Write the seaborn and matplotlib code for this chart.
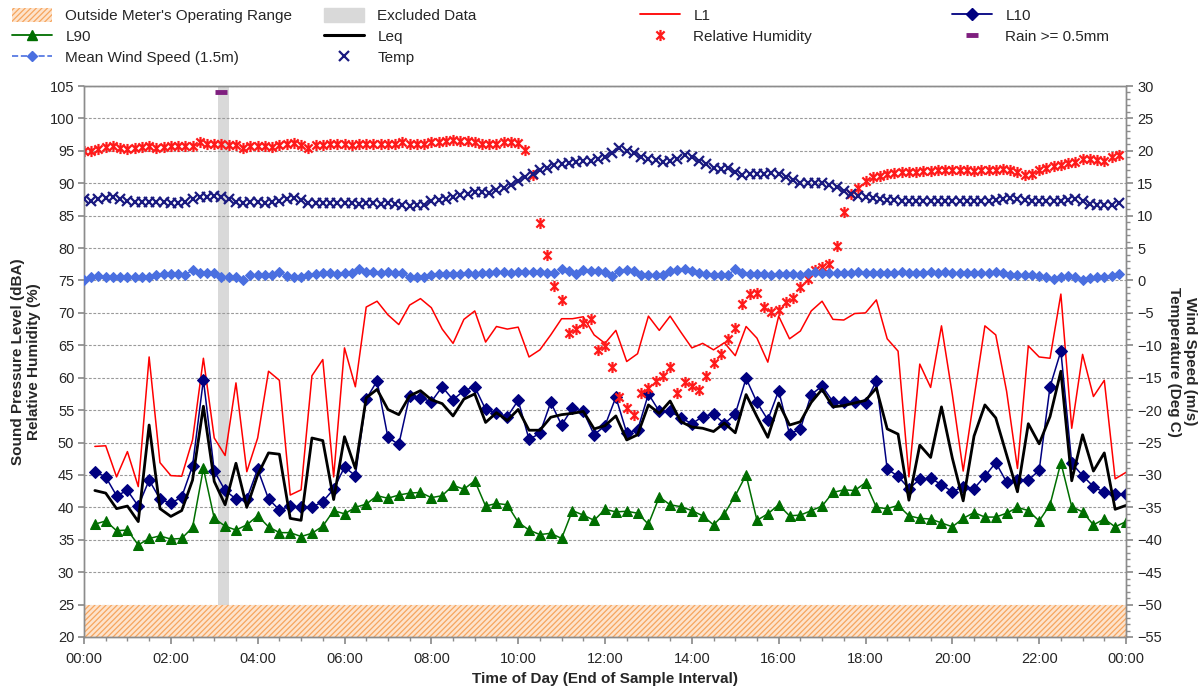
import numpy as np
import matplotlib
matplotlib.use('Agg')
import matplotlib.pyplot as plt
import matplotlib.ticker as mticker
from matplotlib.path import Path
from matplotlib.patches import Patch
from matplotlib.lines import Line2D
import seaborn as sns

sns.set_theme(style='white')
plt.rcParams['font.family'] = ['Liberation Sans', 'DejaVu Sans']
plt.rcParams['hatch.linewidth'] = 0.9

# ---------------- data ----------------
# sound levels, 15-minute intervals ending 00:15 ... 24:00
sound_hours = np.arange(1, 97) / 4.0
L1 = [49.4, 49.5, 44.7, 48.6, 43.2, 63.2, 46.9, 44.9, 44.8, 50.4, 63.0, 50.7, 48.0, 59.2, 45.5, 50.7, 61.0, 59.6, 41.9,
      42.7, 60.3, 62.8, 44.7, 64.6, 58.6, 70.9, 71.8, 69.7, 68.2, 71.2, 72.2, 70.8, 67.5, 65.3, 69.0, 70.3, 65.5, 67.9,
      67.5, 67.8, 63.2, 64.3, 66.6, 69.1, 69.1, 69.4, 66.6, 65.3, 67.3, 62.5, 63.7, 69.5, 67.3, 69.5, 67.0, 64.6, 65.3,
      64.3, 65.4, 63.4, 67.9, 66.1, 62.4, 69.5, 66.0, 67.2, 70.3, 71.8, 69.0, 68.9, 69.9, 70.0, 72.0, 66.0, 64.1, 44.7,
      62.1, 58.5, 68.0, 57.4, 45.6, 56.9, 68.0, 66.6, 57.9, 46.0, 64.9, 63.2, 63.0, 72.9, 52.2, 63.6, 57.1, 59.6, 44.4, 45.4]
L10 = [45.5, 44.7, 41.8, 42.6, 40.2, 44.2, 41.3, 40.6, 41.6, 46.4, 59.7, 45.6, 42.6, 41.3, 41.3, 45.9, 41.3, 39.6, 40.2,
       40.0, 40.0, 40.9, 42.8, 46.2, 44.9, 56.7, 59.5, 50.8, 49.7, 57.2, 56.9, 56.3, 58.6, 56.6, 58.0, 58.6, 55.1, 54.6,
       54.0, 56.5, 50.5, 51.4, 56.2, 52.7, 55.3, 54.8, 51.2, 52.6, 57.0, 51.5, 51.9, 57.5, 54.8, 54.8, 53.8, 52.9, 54.0,
       54.4, 52.9, 54.4, 59.9, 56.2, 53.5, 58.0, 51.3, 52.1, 57.4, 58.7, 56.3, 56.2, 56.2, 56.1, 59.5, 45.9, 44.8, 42.9,
       44.3, 44.5, 43.5, 42.4, 43.2, 42.9, 44.8, 46.9, 43.9, 44.2, 44.2, 45.7, 58.6, 64.1, 46.8, 44.9, 43.2, 42.3, 42.1, 42.1]
L90 = [37.4, 37.9, 36.4, 36.5, 34.2, 35.2, 35.6, 35.1, 35.2, 36.9, 46.0, 38.3, 37.1, 36.5, 37.3, 38.7, 37.0, 36.1, 36.1,
       35.5, 36.0, 37.1, 39.5, 39.0, 40.0, 40.5, 41.8, 41.4, 41.9, 42.2, 42.3, 41.5, 41.8, 43.4, 42.8, 44.1, 40.2, 40.6,
       40.4, 37.7, 36.5, 35.8, 36.0, 35.2, 39.5, 38.8, 38.0, 39.7, 39.3, 39.4, 39.1, 37.4, 41.6, 40.4, 40.1, 39.5, 38.7,
       37.3, 39.0, 41.8, 45.0, 38.0, 39.0, 40.4, 38.7, 38.8, 39.5, 40.2, 42.3, 42.7, 42.6, 43.8, 40.0, 39.8, 40.3, 38.7,
       38.3, 38.2, 37.6, 37.0, 38.3, 39.2, 38.5, 38.5, 39.1, 40.0, 39.5, 37.9, 40.4, 46.9, 40.1, 39.3, 37.3, 38.2, 37.0, 37.8]
Leq = [42.6, 42.2, 39.8, 40.2, 37.8, 52.7, 39.8, 38.6, 39.5, 44.2, 55.6, 44.0, 40.4, 46.8, 40.0, 45.0, 48.4, 48.2, 38.3,
       38.0, 50.7, 50.3, 41.2, 50.9, 46.0, 56.9, 58.2, 55.1, 54.3, 57.2, 58.0, 56.6, 56.0, 54.1, 56.7, 57.5, 53.1, 54.6,
       53.4, 55.1, 51.9, 51.9, 53.9, 54.3, 54.5, 54.8, 52.1, 52.6, 54.1, 50.4, 51.2, 55.8, 54.5, 56.4, 53.2, 52.4, 52.2,
       51.7, 53.0, 51.5, 57.4, 54.0, 50.8, 56.1, 52.7, 53.2, 56.2, 58.2, 55.5, 55.7, 56.1, 56.5, 58.4, 52.1, 51.3, 41.1,
       49.6, 47.7, 55.5, 47.6, 41.0, 51.0, 55.8, 53.8, 48.1, 42.4, 52.9, 49.8, 54.0, 61.0, 44.1, 51.2, 45.6, 48.4, 39.7, 40.3]

# weather, 10-minute intervals 00:00 ... 23:50
weather_hours = np.arange(0, 144) / 6.0
rel_humidity = [95.0, 95.0, 95.3, 95.6, 95.7, 95.4, 95.3, 95.4,
                95.6, 95.7, 95.5, 95.6, 95.7, 95.8, 95.7, 95.8,
                96.4, 96.0, 96.0, 96.0, 95.9, 95.9, 95.4, 95.7,
                95.8, 95.8, 95.6, 95.9, 96.0, 96.2, 95.9, 95.5,
                95.9, 95.9, 96.0, 96.0, 96.0, 95.9, 96.0, 96.0,
                96.0, 96.0, 96.0, 96.1, 96.3, 96.0, 96.0, 96.1,
                96.3, 96.4, 96.5, 96.6, 96.5, 96.5, 96.3, 96.1,
                96.0, 96.1, 96.3, 96.3, 96.2,
                95.2, 91.3, 83.9, 78.9, 74.1, 72.0, 66.9, 67.5, 68.4, 69.0, 64.3, 64.9, 61.6, 57.0, 55.4, 54.2,
                57.7, 58.4, 59.5, 60.2, 61.6, 57.6, 59.3, 58.7, 58.1, 60.3, 62.2, 63.7, 66.0, 67.7, 71.4, 72.9, 73.0,
                70.9, 70.2, 70.4, 71.7, 72.3, 74.0, 75.2, 76.6, 77.1, 77.5, 80.3, 85.6, 88.3, 89.3, 90.4, 91.0,
                91.1, 91.4, 91.6,
                91.7, 91.8, 91.8, 91.9, 91.9, 92.0, 92.1, 92.1, 92.0, 92.0, 91.9, 92.0, 92.0, 92.1, 92.2, 92.1, 91.8,
                91.3, 91.5, 92.0, 92.3, 92.6, 92.8, 93.1, 93.3, 93.8, 93.8, 93.6, 93.5, 94.0, 94.4]
temperature = [12.5, 12.3, 12.5, 12.7, 12.9, 12.6, 12.3, 12.1,
               12.1, 12.1, 12.1, 12.1, 12.0, 12.0, 12.1, 12.5,
               12.8, 12.9, 13.0, 12.9, 12.6, 12.1, 12.0, 12.1,
               12.1, 12.0, 12.1, 12.2, 12.5, 12.7, 12.4, 12.0,
               11.9, 11.9, 11.9, 11.9, 11.9, 11.9, 11.8, 11.9,
               11.9, 11.8, 11.9, 11.8, 11.7, 11.5, 11.6, 11.65,
               12.2, 12.4, 12.6, 12.9, 13.2, 13.3, 13.6, 13.7, 13.5, 13.9, 14.2,
               14.7, 15.3, 15.9, 16.5, 17.0, 17.4, 17.8, 18.0, 18.1, 18.3, 18.4, 18.5, 18.7,
               19.0, 19.7, 20.4, 20.0, 19.6, 19.1, 18.8, 18.6, 18.3, 18.5, 18.8, 19.3, 19.0, 18.5,
               17.9, 17.4, 17.2, 17.4, 16.8, 16.3, 16.4, 16.4, 16.5, 16.6, 16.4, 15.9, 15.5, 15.1,
               15.0, 15.0, 15.0, 14.8, 14.4, 13.8, 13.4, 13.1, 12.8, 12.7, 12.6, 12.4,
               12.4, 12.3, 12.3, 12.2, 12.2, 12.3, 12.3, 12.2, 12.3, 12.3, 12.3, 12.2, 12.2, 12.3, 12.4, 12.5,
               12.7, 12.6, 12.4, 12.3, 12.2, 12.2, 12.3, 12.3, 12.4, 12.5, 12.2, 11.8, 11.6, 11.7, 11.6, 11.9]
wind_speed = [0.1, 0.6, 0.7, 0.6, 0.6, 0.6, 0.5, 0.6, 0.6, 0.6,
              0.9, 1.0, 1.0, 1.0, 0.9, 1.6, 1.2, 1.1, 1.1, 0.6,
              0.5, 0.6, 0.1, 0.8, 0.8, 0.8, 0.9, 1.3, 0.7, 0.6,
              0.6, 0.9, 1.0, 1.1, 1.1, 1.0, 1.1, 1.2, 1.7, 1.3,
              1.3, 1.2, 1.3, 1.2, 1.1, 0.6, 0.6, 0.6, 0.9, 1.0,
              1.0, 1.0, 1.0, 1.1, 1.0, 1.1, 1.2, 1.3, 1.3, 1.2,
              1.3, 1.3, 1.3, 1.3, 1.2, 1.2, 1.8, 1.4, 1.0, 1.6,
              1.5, 1.5,
              1.3, 0.7, 1.5, 1.6, 1.5, 0.9, 0.8, 0.8, 0.9, 1.4,
              1.6, 1.7, 1.5, 1.1, 1.0, 0.9, 0.9, 0.8, 1.8, 1.1,
              1.0, 1.0, 1.0, 0.9, 1.0, 1.0, 1.0, 0.9, 1.2, 1.3,
              1.2, 1.2, 1.1, 1.2, 1.2, 1.3, 1.2, 1.2, 1.1, 1.2,
              1.2, 1.3, 1.2, 1.2, 1.2, 1.3, 1.2, 1.3, 1.2, 1.2,
              1.2, 1.2, 1.2, 1.2, 1.3, 1.2, 0.8, 0.9, 0.8, 0.8,
              0.7, 0.6, 0.3, 0.6, 0.7, 0.6, 0.1, 0.4, 0.5, 0.5,
              0.7, 1.0]
rain_hours = [3 + 10 / 60]
rain_flag = [29.0]

excluded_start, excluded_end = 3 + 5 / 60, 3 + 20 / 60
meter_floor, meter_min = 20, 25

# ---------------- styles ----------------
C_L1 = '#FF0000'
C_L10 = '#000080'
C_L90 = '#006E00'
C_LEQ = '#000000'
C_RH = '#FF1A1A'
C_TEMP = '#1A1A80'
C_WIND = '#4A6FE0'
C_RAIN = '#7F1F7F'
C_EXCL = '#D9D9D9'
C_HATCH = '#F6A55E'

star = Path([(-1, -1), (1, 1), (-1, 1), (1, -1), (0, -1.35), (0, 1.35)],
            [Path.MOVETO, Path.LINETO, Path.MOVETO, Path.LINETO, Path.MOVETO, Path.LINETO])

W, H = 1202, 693
fig = plt.figure(figsize=(W / 100, H / 100), dpi=100)
L, R, T, B = 84, 1126, 86, 637
ax = fig.add_axes([L / W, 1 - B / H, (R - L) / W, (B - T) / H])
ax.set_xlim(0, 24)
ax.set_ylim(20, 105)
ax.set_facecolor('white')

ax2 = ax.twinx()
ax2.set_ylim(-55, 30)

# shaded regions
ax.axhspan(meter_floor, meter_min, facecolor='#FDE3CC', edgecolor=C_HATCH, hatch='//////', lw=0, zorder=0.6)
ax.axvspan(excluded_start, excluded_end, color=C_EXCL, lw=0, zorder=0.5)

ax.yaxis.grid(True, linestyle=(0, (2.5, 1.5)), color='#9A9A9A', lw=0.8, zorder=0.4)
ax.xaxis.grid(False)
ax.set_axisbelow(True)

# sound series
sns.lineplot(x=sound_hours, y=L1, ax=ax, color=C_L1, lw=1.1, legend=False, zorder=3)
sns.lineplot(x=sound_hours, y=L10, ax=ax, color=C_L10, lw=1.1, marker='D', markersize=6,
             markeredgecolor=C_L10, markerfacecolor=C_L10, legend=False, zorder=4)
sns.lineplot(x=sound_hours, y=L90, ax=ax, color=C_L90, lw=1.1, marker='^', markersize=7,
             markeredgecolor=C_L90, markerfacecolor=C_L90, legend=False, zorder=4)
sns.lineplot(x=sound_hours, y=Leq, ax=ax, color=C_LEQ, lw=2.0, legend=False, zorder=5)
sns.lineplot(x=weather_hours, y=rel_humidity, ax=ax, color=C_RH, linestyle='', marker=star,
             markersize=8, markeredgewidth=1.6, markeredgecolor=C_RH, legend=False, zorder=6)

# weather on secondary axis
sns.lineplot(x=weather_hours, y=wind_speed, ax=ax2, color=C_WIND, lw=1.0, linestyle='--', marker='D',
             markersize=5.5, markeredgecolor=C_WIND, markerfacecolor=C_WIND, legend=False, zorder=3)
sns.lineplot(x=weather_hours, y=temperature, ax=ax2, color=C_TEMP, linestyle='', marker='x',
             markersize=6.5, markeredgewidth=1.6, markeredgecolor=C_TEMP, legend=False, zorder=3)
sns.lineplot(x=rain_hours, y=rain_flag, ax=ax2, color=C_RAIN, linestyle='', marker='_',
             markersize=9, markeredgewidth=3.5, markeredgecolor=C_RAIN, legend=False, zorder=3)

# axes formatting
for a in (ax, ax2):
    for s in a.spines.values():
        s.set_color('#8C8C8C')
        s.set_linewidth(1.0)

ax.xaxis.set_major_locator(mticker.MultipleLocator(2))
ax.xaxis.set_minor_locator(mticker.MultipleLocator(0.5))
ax.xaxis.set_major_formatter(mticker.FuncFormatter(lambda v, p: f"{int(round(v)) % 24:02d}:00"))
ax.yaxis.set_major_locator(mticker.MultipleLocator(5))
ax2.yaxis.set_major_locator(mticker.MultipleLocator(5))
ax2.yaxis.set_minor_locator(mticker.MultipleLocator(1))
ax.tick_params(axis='x', which='major', direction='out', length=5, color='#8C8C8C', labelsize=10.5,
               pad=6, bottom=True)
ax.tick_params(axis='x', which='minor', direction='out', length=3, color='#8C8C8C', bottom=True)
ax.tick_params(axis='y', which='major', direction='out', length=4, color='#8C8C8C', labelsize=10.5,
               pad=3, left=True)
ax2.tick_params(axis='y', which='major', direction='out', length=5, color='#8C8C8C', labelsize=10.5,
                pad=3, right=True)
ax2.tick_params(axis='y', which='minor', direction='out', length=3, color='#8C8C8C', right=True)
ax2.grid(False)

ax.set_xlabel('Time of Day (End of Sample Interval)', fontsize=11, fontweight='bold')
ax.xaxis.set_label_coords(0.5, -0.064)
ax.set_ylabel('Sound Pressure Level (dBA)\nRelative Humidity (%)', fontsize=11, fontweight='bold',
              linespacing=1.15, va='center')
ax.yaxis.set_label_coords(-0.0555, 0.5)
ax2.set_ylabel('Wind Speed (m/s)\nTemperature (Deg C)', fontsize=11, fontweight='bold',
               rotation=270, linespacing=1.15, va='center')
ax2.yaxis.set_label_coords(1.054, 0.5)

# legend: four columns placed like the original
h_out = Patch(facecolor='#FDE3CC', edgecolor=C_HATCH, hatch='//////', lw=0)
h_exc = Patch(facecolor=C_EXCL, edgecolor=C_EXCL)
h_L1 = Line2D([], [], color=C_L1, lw=1.3)
h_L10 = Line2D([], [], color=C_L10, lw=1.3, marker='D', markersize=6)
h_L90 = Line2D([], [], color=C_L90, lw=1.3, marker='^', markersize=7)
h_leq = Line2D([], [], color=C_LEQ, lw=2.2)
h_rh = Line2D([], [], color=C_RH, ls='', marker=star, markersize=8, markeredgewidth=1.6)
h_rain = Line2D([], [], color=C_RAIN, ls='', marker='_', markersize=8, markeredgewidth=3.5)
h_wind = Line2D([], [], color=C_WIND, lw=1.2, ls='--', marker='D', markersize=5.5)
h_temp = Line2D([], [], color=C_TEMP, ls='', marker='x', markersize=6.5, markeredgewidth=1.6)

columns = [
    (12, [h_out, h_L90, h_wind], ["Outside Meter's Operating Range", 'L90', 'Mean Wind Speed (1.5m)']),
    (324, [h_exc, h_leq, h_temp], ['Excluded Data', 'Leq', 'Temp']),
    (640, [h_L1, h_rh], ['L1', 'Relative Humidity']),
    (952, [h_L10, h_rain], ['L10', 'Rain >= 0.5mm']),
]
for x0, hs, ls in columns:
    fig.legend(hs, ls, loc='upper left', bbox_to_anchor=(x0 / W, 1 - 8 / H), frameon=False,
               fontsize=11, borderpad=0, borderaxespad=0, handlelength=2.6, handleheight=1.0,
               handletextpad=0.9, labelspacing=0.38)

fig.savefig('out.png', dpi=100, facecolor='white')
